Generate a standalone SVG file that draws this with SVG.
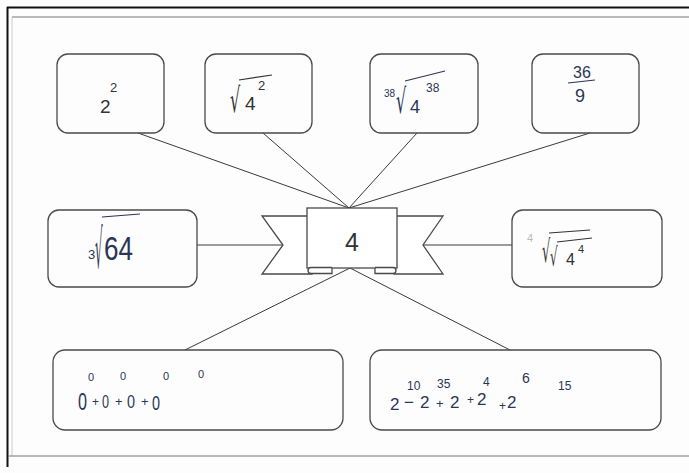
<svg xmlns="http://www.w3.org/2000/svg" width="689" height="473" viewBox="0 0 689 473">
<style>
.box{fill:none;stroke:#4a4a4a;stroke-width:1.3}
.con{stroke:#3a3a3a;stroke-width:1;fill:none}
.t{font-family:"Liberation Sans","DejaVu Sans",sans-serif;fill:#333}
.b{fill:#2b3556}
.rad{font-family:"DejaVu Sans",sans-serif;font-size:20px}
.bar{stroke-width:1.2;fill:none}
</style>
<rect width="689" height="473" fill="#fdfdfd"/>
<g id="frame">
<line x1="7" y1="7.5" x2="689" y2="7.5" stroke="#111" stroke-width="2"/>
<line x1="7.5" y1="7" x2="7.5" y2="467" stroke="#111" stroke-width="2"/>
<line x1="12" y1="17" x2="689" y2="17" stroke="#777" stroke-width="1"/>
<line x1="12" y1="17" x2="12" y2="456" stroke="#ccc" stroke-width="1"/>
<line x1="8" y1="456" x2="689" y2="456" stroke="#777" stroke-width="1"/>
</g>
<g id="connectors">
<line class="con" x1="349" y1="208" x2="138" y2="133"/>
<line class="con" x1="349" y1="208" x2="263" y2="133"/>
<line class="con" x1="349" y1="208" x2="417" y2="133"/>
<line class="con" x1="349" y1="208" x2="590" y2="133"/>
<line class="con" x1="197" y1="245" x2="283" y2="245"/>
<line class="con" x1="423" y1="245" x2="512" y2="245"/>
<line class="con" x1="350" y1="268" x2="185" y2="350"/>
<line class="con" x1="350" y1="268" x2="510" y2="350"/>
</g>
<g id="center">
<polygon class="box" style="fill:#fff" points="310,216 262,216 283,245 262,274 312,274"/>
<polygon class="box" style="fill:#fff" points="394,216 443,216 423,245 443,274 394,274"/>
<rect class="box" style="fill:#fff" x="307" y="208" width="90" height="60"/>
<path class="box" style="fill:#fff" d="M332,268 V273.5 H311 A3,3 0 0 1 311,267.5 H332"/>
<path class="box" style="fill:#fff" d="M375,268 V273.5 H393 A3,3 0 0 0 393,267.5 H375"/>
<text class="t" x="352" y="251" font-size="25" text-anchor="middle" fill="#222">4</text>
</g>
<g id="n1">
<rect class="box" x="57" y="54" width="107" height="79" rx="11"/>
<text class="t" x="100" y="113" font-size="19">2</text>
<text class="t" x="110" y="92" font-size="13">2</text>
</g>
<g id="n2">
<rect class="box" x="205" y="54" width="107" height="79" rx="11"/>
<text class="t rad" transform="translate(230,112) scale(0.8,1.7)">√</text>
<line class="bar" stroke="#333" x1="239" y1="80" x2="272" y2="75"/>
<text class="t" x="245" y="110" font-size="19">4</text>
<text class="t" x="258" y="90" font-size="13">2</text>
</g>
<g id="n3">
<rect class="box" x="370" y="54" width="108" height="79" rx="11"/>
<text class="t b" x="384" y="97" font-size="10">38</text>
<text class="t rad b" transform="translate(396,113) scale(0.8,1.7)">√</text>
<line class="bar" stroke="#2b3556" x1="405" y1="81" x2="445" y2="71"/>
<text class="t b" x="410" y="113" font-size="18">4</text>
<text class="t b" x="426" y="92" font-size="12">38</text>
</g>
<g id="n4">
<rect class="box" x="532" y="54" width="107" height="79" rx="11"/>
<text class="t b" x="573" y="78" font-size="16">36</text>
<line class="bar" stroke="#2b3556" x1="568" y1="83" x2="595" y2="80"/>
<text class="t b" x="575" y="102" font-size="18">9</text>
</g>
<g id="n5">
<rect class="box" x="48" y="210" width="149" height="77" rx="11"/>
<text class="t b" x="88" y="259" font-size="13">3</text>
<text class="t rad b" transform="translate(95,268) scale(0.6,2.7)">√</text>
<line class="bar" stroke="#2b3556" x1="102" y1="217" x2="140" y2="214"/>
<text class="t b" x="104" y="260" font-size="33" textLength="29" lengthAdjust="spacingAndGlyphs">64</text>
</g>
<g id="n6">
<rect class="box" x="512" y="210" width="150" height="77" rx="11"/>
<text class="t" x="527" y="242" font-size="11" style="fill:#bbb">4</text>
<text class="t rad" transform="translate(542,262) scale(0.65,1.55)">√</text>
<line class="bar" stroke="#333" x1="549" y1="233" x2="590" y2="230"/>
<text class="t rad" transform="translate(550,266) scale(0.6,1.28)">√</text>
<line class="bar" stroke="#333" x1="557" y1="242" x2="592" y2="238"/>
<text class="t" x="566" y="265" font-size="16">4</text>
<text class="t" x="578" y="253" font-size="11">4</text>
</g>
<g id="n7">
<rect class="box" x="53" y="350" width="290" height="80" rx="12"/>
<g class="t b" font-size="18">
<text x="78" y="410" font-size="24" textLength="9" lengthAdjust="spacingAndGlyphs">0</text>
<text x="92" y="406" font-size="12">+</text>
<text x="102" y="408" textLength="7" lengthAdjust="spacingAndGlyphs">0</text>
<text x="115" y="406" font-size="13">+</text>
<text x="127" y="408" textLength="8" lengthAdjust="spacingAndGlyphs">0</text>
<text x="141" y="406" font-size="13">+</text>
<text x="152" y="410" font-size="21" textLength="8" lengthAdjust="spacingAndGlyphs">0</text>
<text x="88" y="381" font-size="11">0</text>
<text x="120" y="380" font-size="11">0</text>
<text x="163" y="380" font-size="11">0</text>
<text x="198" y="378" font-size="11">0</text>
</g>
</g>
<g id="n8">
<rect class="box" x="370" y="350" width="291" height="80" rx="12"/>
<g class="t b" font-size="17">
<text x="390" y="410">2</text>
<text x="404" y="408">−</text>
<text x="420" y="408">2</text>
<text x="436" y="408" font-size="13">+</text>
<text x="450" y="408">2</text>
<text x="467" y="404" font-size="12">+</text>
<text x="477" y="405">2</text>
<text x="499" y="410" font-size="12">+</text>
<text x="507" y="408">2</text>
<text x="407" y="390" font-size="12">10</text>
<text x="437" y="388" font-size="12">35</text>
<text x="483" y="386" font-size="12">4</text>
<text x="522" y="383" font-size="14">6</text>
<text x="558" y="390" font-size="12">15</text>
</g>
</g>
</svg>
